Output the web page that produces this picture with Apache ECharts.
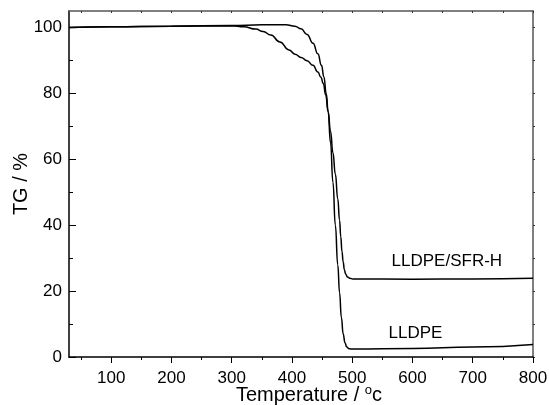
<!DOCTYPE html>
<html>
<head>
<meta charset="utf-8">
<script src="https://cdn.jsdelivr.net/npm/echarts@6/dist/echarts.min.js"></script>
<style>
html,body{margin:0;padding:0;background:#fff;}
#c{width:549px;height:405px;}
</style>
</head>
<body>
<div id="c"></div>
<script>
// ---- data ----
var xTicks = [100, 200, 300, 400, 500, 600, 700, 800];
var xMinorTicks = [50, 150, 250, 350, 450, 550, 650, 750];
var yTicks = [0, 20, 40, 60, 80, 100];
var yMinorTicks = [10, 30, 50, 70, 90];

var tempLLDPE = [30, 100, 200, 300, 350, 390, 405, 415, 425, 435, 443, 449, 453, 457, 460, 464, 468, 472, 476, 479, 482, 485, 488, 491, 495, 501, 600, 700, 800];
var tgLLDPE   = [100.0, 100.2, 100.4, 100.6, 100.8, 100.8, 100.4, 99.6, 97.9, 95.2, 92.0, 88.5, 85.0, 79.8, 74.5, 65.0, 53.0, 40.0, 28.0, 19.5, 12.0, 7.0, 4.3, 3.0, 2.5, 2.4, 2.6, 3.0, 3.8];

var tempSFR = [30, 100, 200, 300, 320, 340, 352, 365, 380, 395, 405, 415, 425, 435, 443, 448, 452, 456, 460, 464, 468, 472, 476, 479, 481, 483, 485, 487, 489, 492, 496, 501, 600, 700, 800];
var tgSFR   = [100.0, 100.2, 100.4, 100.5, 100.2, 99.5, 98.8, 97.7, 95.6, 93.2, 91.9, 90.9, 89.9, 88.5, 86.5, 84.9, 83.0, 79.5, 74.5, 68.5, 62.0, 55.5, 48.0, 41.5, 36.5, 32.0, 28.8, 26.5, 25.2, 24.3, 23.9, 23.7, 23.6, 23.7, 23.9];

var seriesNames = ['LLDPE', 'LLDPE/SFR-H'];

function pairs(xs, ys) { return xs.map(function (x, i) { return [x, ys[i]]; }); }

var FONT = '"Liberation Sans", Arial, sans-serif';
var chart = echarts.init(document.getElementById('c'), null, {renderer: 'canvas'});

var xMin = 30, xMax = 800, yMin = 0, yMax = 105;

var option = {
  animation: false,
  backgroundColor: '#fff',
  textStyle: {fontFamily: FONT, color: '#000'},
  grid: {left: 69, right: 16, top: 11, bottom: 48, containLabel: false, outerBoundsMode: 'none'},
  xAxis: [
    {
      type: 'value', min: xMin, max: xMax, position: 'bottom',
      name: '{a|Temperature / }{s|o}{a|c}',
      nameLocation: 'middle', nameGap: 27, nameMoveOverlap: false,
      nameTextStyle: {
        padding: [0, 0, 0, 16],
        rich: {
          a: {fontSize: 20, fontFamily: FONT, color: '#000'},
          s: {fontSize: 13, fontFamily: FONT, color: '#000', padding: [0, 0, 10, 0]}
        }
      },
      axisLine: {show: true, onZero: false, lineStyle: {color: '#000', width: 1.5}},
      axisTick: {show: true, inside: false, length: 6, customValues: xTicks, lineStyle: {color: '#000', width: 1}},
      axisLabel: {show: true, customValues: xTicks, margin: 13, fontSize: 17, fontFamily: FONT, color: '#000'},
      splitLine: {show: false}
    },
    {
      type: 'value', min: xMin, max: xMax, position: 'bottom',
      axisLine: {show: false},
      axisTick: {show: true, inside: false, length: 3, customValues: xMinorTicks, lineStyle: {color: '#000', width: 1}},
      axisLabel: {show: false},
      splitLine: {show: false}
    },
    {
      type: 'value', min: xMin, max: xMax, position: 'top',
      axisLine: {show: true, onZero: false, lineStyle: {color: '#555', width: 1.5}},
      axisTick: {show: true, inside: true, length: 2, customValues: xTicks.concat(xMinorTicks), lineStyle: {color: '#333', width: 1}},
      axisLabel: {show: false},
      splitLine: {show: false}
    }
  ],
  yAxis: [
    {
      type: 'value', min: yMin, max: yMax, position: 'left',
      name: 'TG / %', nameLocation: 'middle', nameGap: 38, nameRotate: 90, nameMoveOverlap: false,
      nameTextStyle: {fontSize: 20, fontFamily: FONT, color: '#000'},
      axisLine: {show: true, onZero: false, lineStyle: {color: '#000', width: 1.5}},
      axisTick: {show: true, inside: true, length: 7, customValues: yTicks, lineStyle: {color: '#000', width: 1}},
      axisLabel: {show: true, customValues: yTicks, margin: 7, fontSize: 17, fontFamily: FONT, color: '#000'},
      splitLine: {show: false}
    },
    {
      type: 'value', min: yMin, max: yMax, position: 'left',
      axisLine: {show: false},
      axisTick: {show: true, inside: true, length: 4, customValues: yMinorTicks, lineStyle: {color: '#000', width: 1}},
      axisLabel: {show: false},
      splitLine: {show: false}
    },
    {
      type: 'value', min: yMin, max: yMax, position: 'right',
      axisLine: {show: true, onZero: false, lineStyle: {color: '#555', width: 1.5}},
      axisTick: {show: true, inside: false, length: 2, customValues: yTicks.concat(yMinorTicks), lineStyle: {color: '#333', width: 1}},
      axisLabel: {show: false},
      splitLine: {show: false}
    }
  ],
  series: [
    {
      name: seriesNames[0], type: 'line', xAxisIndex: 0, yAxisIndex: 0,
      data: pairs(tempLLDPE, tgLLDPE),
      smooth: 0.5, smoothMonotone: 'x', showSymbol: false, symbol: 'none',
      lineStyle: {color: '#000', width: 1.5},
      markPoint: {
        symbol: 'circle', symbolSize: 0, silent: true,
        label: {show: true, position: 'inside', formatter: 'LLDPE', fontSize: 17, fontFamily: FONT, color: '#000'},
        data: [{coord: [605, 7.2]}]
      }
    },
    {
      name: seriesNames[1], type: 'line', xAxisIndex: 0, yAxisIndex: 0,
      data: pairs(tempSFR, tgSFR),
      smooth: 0.5, smoothMonotone: 'x', showSymbol: false, symbol: 'none',
      lineStyle: {color: '#000', width: 1.5},
      markPoint: {
        symbol: 'circle', symbolSize: 0, silent: true,
        label: {show: true, position: 'inside', formatter: 'LLDPE/SFR-H', fontSize: 17, fontFamily: FONT, color: '#000'},
        data: [{coord: [657, 29.0]}]
      }
    }
  ]
};
chart.setOption(option);
</script>
</body>
</html>
